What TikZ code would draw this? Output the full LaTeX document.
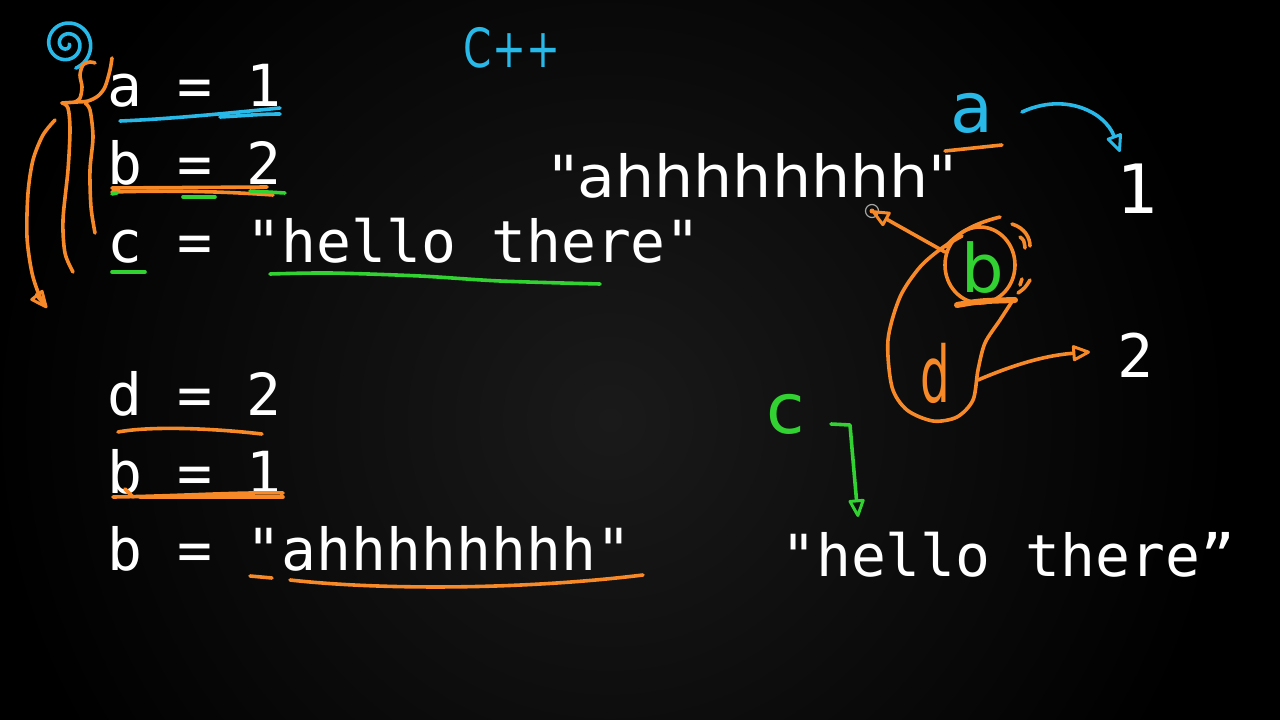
\documentclass[tikz,border=0pt]{standalone}
\usepackage{fontspec}
\setmainfont{DejaVu Sans}
\newfontfamily\codefont{DejaVu Sans Mono}
\newfontfamily\plainsans{DejaVu Sans}
\usetikzlibrary{arrows.meta}
\definecolor{penor}{RGB}{247,137,40}
\definecolor{pency}{RGB}{40,185,232}
\definecolor{pengr}{RGB}{50,210,50}
\definecolor{bgc}{RGB}{26,26,26}
\tikzset{
  ink/.style={line width=3.6pt, line cap=round, line join=round},
  orink/.style={ink, draw=penor},
  cyink/.style={ink, draw=pency},
  grink/.style={ink, draw=pengr},
  tipopen/.style={-{Triangle[open,round,length=20pt,width=17pt,line width=3pt]}},
  code/.style={text=white, inner sep=0pt, anchor=base west, font=\codefont\fontsize{58}{60}\selectfont},
  hand/.style={inner sep=0pt},
}
\begin{document}
\begin{tikzpicture}[x=1pt,y=-1pt]
\useasboundingbox (0,0) rectangle (1280,720);
\fill[black] (0,0) rectangle (1280,720);
\shade[inner color=bgc, outer color=black] (610,420) circle (620);

% code lines
\node[code] (l1) at (107,106) {a = 1};
\node[code] (l2) at (107,184) {b = 2};
\node[code] (l3) at (107,262) {c = "hello there"};
\node[code] (l4) at (107,415) {d = 2};
\node[code] (l5) at (107,493) {b = 1};
\node[code] (l6) at (107,570) {b = "ahhhhhhhh"};

% right side values
\node[inner sep=0pt, anchor=base west, text=white, font=\plainsans\fontsize{58}{60}\selectfont, xscale=1.065] (ahh) at (549,197) {"ahhhhhhhh"};
\node[inner sep=0pt, anchor=base, text=white, font=\codefont\fontsize{68}{70}\selectfont] (one) at (1137,213) {1};
\node[inner sep=0pt, anchor=base, text=white, font=\codefont\fontsize{60}{62}\selectfont] (two) at (1136,377) {2};
\node[code] (hello) at (781,576) {"hello there”};

% handwritten labels
\node[hand, text=pency, font=\fontsize{54}{56}\selectfont, xscale=0.75] (cpp) at (512,48) {C++};
\node[hand, text=pency, font=\fontsize{70}{72}\selectfont] (la) at (972,113) {a};
\node[hand, text=pengr, font=\fontsize{67}{70}\selectfont] (lb) at (983,268) {b};
\node[hand, text=penor, font=\fontsize{78}{80}\selectfont, xscale=0.6] (ld) at (935,373) {d};
\node[hand, text=pengr, font=\fontsize{70}{72}\selectfont] (lc) at (786,414) {c};

% cursor
\node[circle, draw=gray!70, line width=1.2pt, minimum size=13pt, inner sep=0pt] (cur) at (872,211) {};
\fill[penor] (cur.center) circle (2.5);

% blue spiral
\draw[cyink] plot[domain=0:790, samples=120, smooth] ({67+(2+0.03*\x)*cos(\x)},{44+(2+0.03*\x)*sin(\x)});

% left orange scribble
\draw[orink] plot[smooth] coordinates {(112,58) (110,70) (105,87) (98,96) (88,101) (77,102) (62,103)};
\draw[orink] plot[smooth] coordinates {(95,63) (90,62) (83,65) (80,75) (82,87) (80,98) (75,102)};
\draw[orink] plot[smooth] coordinates {(62,103) (68,108) (70,130) (68,170) (63,220) (65,253) (73,272)};
\draw[orink] plot[smooth] coordinates {(85,103) (90,110) (93,137) (90,170) (91,207) (95,233)};
\draw[orink, tipopen] plot[smooth] coordinates {(55,120) (43,135) (33,160) (28,193) (27,237) (32,273) (40,297) (47,308)};

% underlines top
\draw[cyink] (120,121) .. controls (170,119) and (230,113) .. (280,108);
\draw[cyink] (280,114) .. controls (260,114) and (240,116) .. (220,117);
\draw[orink] (112,188) -- (267,187);
\draw[orink] (112,192) .. controls (180,190) and (230,192) .. (273,195);
\draw[grink] (112,194) -- (117,193);
\draw[grink] (183,197) -- (215,197);
\draw[grink] (250,191) -- (285,193);
\draw[grink] (112,272) -- (145,272);
\draw[grink] plot[smooth] coordinates {(270,274) (330,273) (420,276) (500,281) (600,284)};

% underlines bottom
\draw[orink] (118,432) .. controls (150,426) and (210,428) .. (262,434);
\draw[orink] (125,489) -- (133,497);
\draw[orink] (113,497) .. controls (180,496) and (240,492) .. (283,493);
\draw[orink] (140,497) -- (283,497);
\draw[orink] (250,576) -- (272,578);
\draw[orink] (290,580) .. controls (380,590) and (520,590) .. (643,575);

% right: a -> 1
\draw[orink] (945,151) -- (1002,145);
\coordinate (aStart) at (1022,112);
\coordinate (aEnd) at (1120,152);
\draw[cyink, tipopen] (aStart) .. controls (1065,92) and (1105,112) .. (aEnd);

% b circle and d blob
\draw[orink] (980,265) ellipse [x radius=35, y radius=38];
\draw[orink] (945,247) .. controls (960,230) and (980,222) .. (1000,217);
\draw[orink] (1012,224) .. controls (1025,228) and (1030,238) .. (1030,246);
\draw[orink] (1020,237) .. controls (1024,240) .. (1025,248);
\draw[orink] (1030,280) .. controls (1025,288) .. (1018,293);
\draw[orink] (1022,279) -- (1020,285);
\draw[orink, line width=6pt] (957,305) .. controls (980,301) .. (1015,300);
\draw[orink] plot[smooth] coordinates {(1013,300) (1000,320) (985,343) (978,370) (973,400) (957,417) (933,421) (907,410) (892,387) (888,340) (900,297) (920,267) (942,248) (962,236)};

% b -> "ahh"
\coordinate (bStart) at (945,252);
\draw[orink, tipopen] (bStart) -- (cur.center);
% d -> 2
\coordinate (dStart) at (978,380);
\coordinate (dEnd) at (1090,352);
\draw[orink, tipopen] (dStart) .. controls (1020,362) and (1050,355) .. (dEnd);

% c -> "hello there"
\coordinate (cStart) at (831,424);
\coordinate (cEnd) at (858,517);
\draw[grink, tipopen] (cStart) -- (850,425) .. controls (853,460) .. (cEnd);
\end{tikzpicture}
\end{document}
